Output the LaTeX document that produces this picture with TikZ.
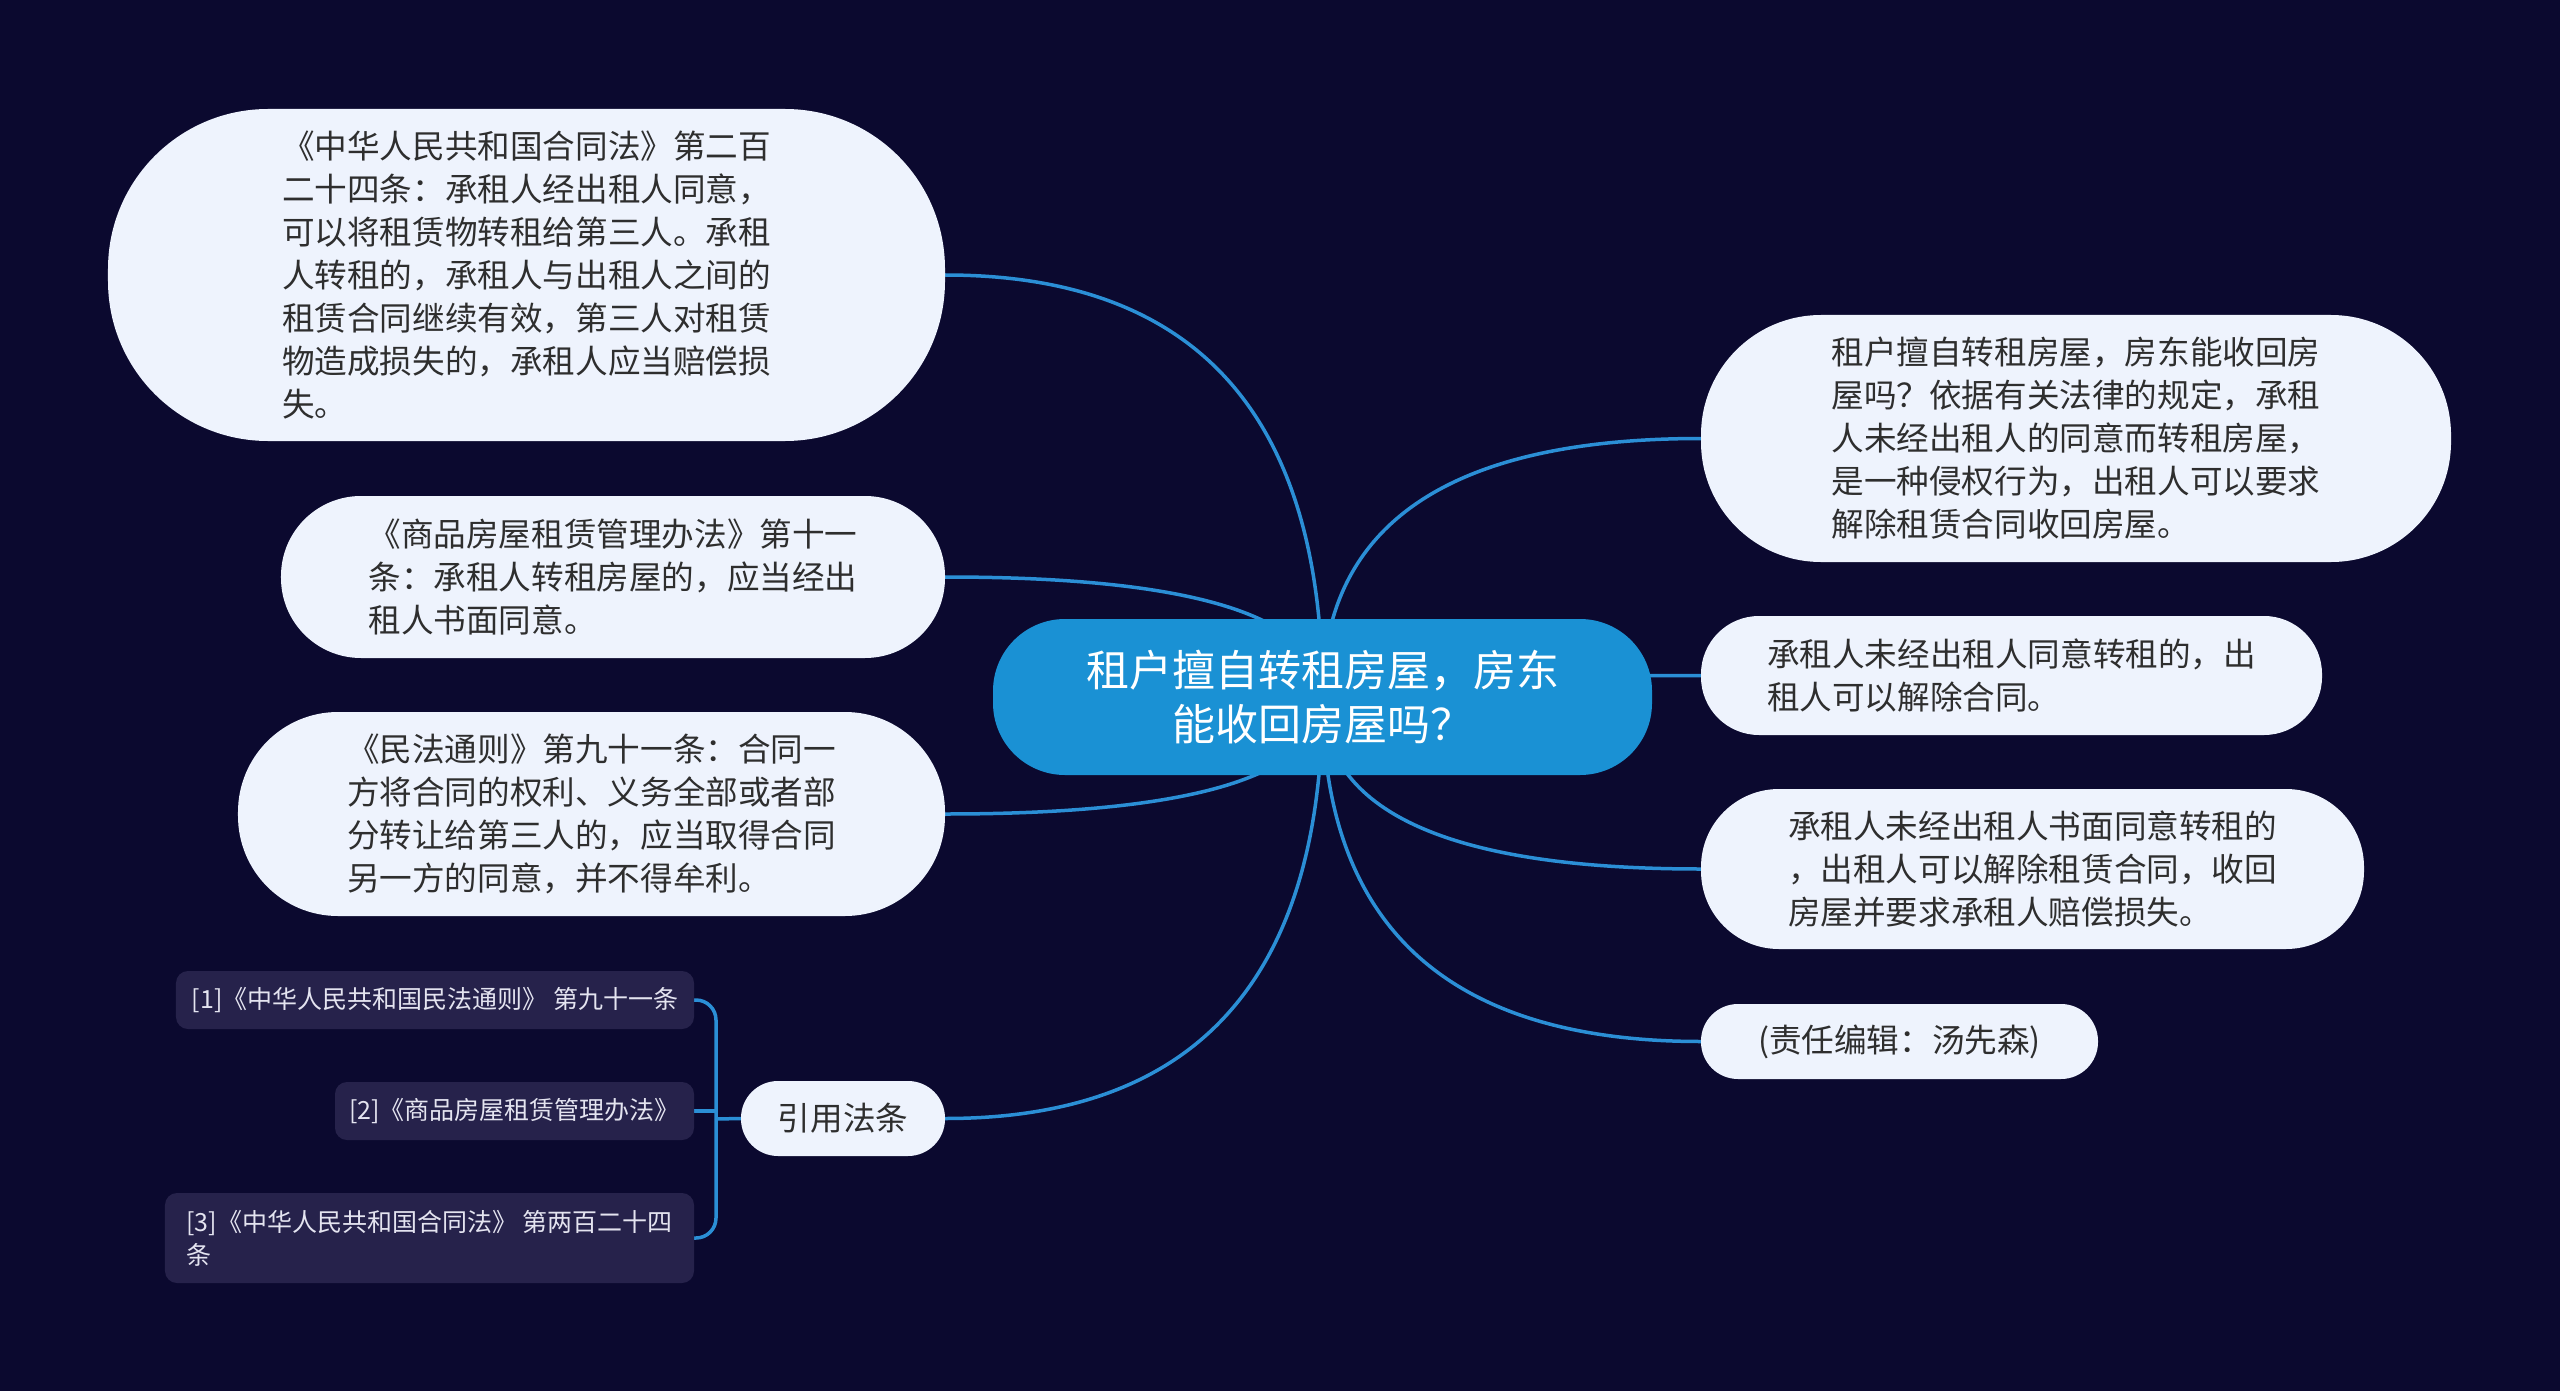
\documentclass[tikz,border=0pt]{standalone}
\usepackage{fontspec}
\newfontfamily\cjk{Noto Sans CJK SC}
\usetikzlibrary{calc}
\definecolor{bg_navy}{HTML}{0B092F}
\definecolor{root_blue}{HTML}{1A91D4}
\definecolor{leaf_fill}{HTML}{EEF3FD}
\definecolor{leaf_text}{HTML}{2E2E2E}
\definecolor{ref_fill}{HTML}{26224B}
\definecolor{ref_text}{HTML}{E4E4F0}
\definecolor{link_blue}{HTML}{2B8FD6}
\pgfdeclarelayer{sfondo}
\pgfdeclarelayer{rami}
\pgfsetlayers{sfondo,rami,main}

\begin{document}
\begin{tikzpicture}[
    x=1bp, y=-1bp,
    font=\cjk,
    tema/.style={fill=root_blue, text=white, align=center, inner sep=0pt,
        minimum width=659bp, minimum height=156bp, rounded corners=72bp,
        font=\cjk\fontsize{43bp}{54bp}\selectfont},
    foglia/.style={fill=leaf_fill, text=leaf_text, align=left, inner sep=0pt,
        font=\cjk\fontsize{32.6bp}{43bp}\selectfont},
    fonte/.style={fill=ref_fill, text=ref_text, align=left, inner sep=0pt,
        rounded corners=12bp, font=\cjk\fontsize{25bp}{33bp}\selectfont},
    ramo/.style={draw=link_blue, line width=3.5bp}
]

% --- Sfondo ---
\begin{pgfonlayer}{sfondo}
    \fill[bg_navy] (0,0) rectangle (2560,1391);
\end{pgfonlayer}

% --- Nodo centrale ---
\node[tema] (root) at (1322.5,697) {租户擅自转租房屋，房东\\能收回房屋吗？};

% --- Lato sinistro ---
\node[foglia, minimum width=837bp, minimum height=332bp, rounded corners=160bp] (hetong) at (526.5,275)
    {《中华人民共和国合同法》第二百\\二十四条：承租人经出租人同意，\\可以将租赁物转租给第三人。承租\\人转租的，承租人与出租人之间的\\租赁合同继续有效，第三人对租赁\\物造成损失的，承租人应当赔偿损\\失。};
\node[foglia, minimum width=664bp, minimum height=162bp, rounded corners=80bp] (banfa) at (613,577)
    {《商品房屋租赁管理办法》第十一\\条：承租人转租房屋的，应当经出\\租人书面同意。};
\node[foglia, minimum width=707bp, minimum height=204bp, rounded corners=100bp] (tongze) at (591.5,814)
    {《民法通则》第九十一条：合同一\\方将合同的权利、义务全部或者部\\分转让给第三人的，应当取得合同\\另一方的同意，并不得牟利。};
\node[foglia, minimum width=204bp, minimum height=75bp, rounded corners=37bp] (yinyong) at (843,1118.5) {引用法条};

% Fonti citate
\node[fonte, minimum width=518bp, minimum height=58bp] (fonte1) at (435,1000)
    {[1]《中华人民共和国民法通则》 第九十一条};
\node[fonte, minimum width=359bp, minimum height=58bp] (fonte2) at (514.5,1111)
    {[2]《商品房屋租赁管理办法》};
\node[fonte, minimum width=529bp, minimum height=90bp] (fonte3) at (429.5,1238)
    {[3]《中华人民共和国合同法》 第两百二十四\\条};

% --- Lato destro ---
\node[foglia, minimum width=750bp, minimum height=247bp, rounded corners=120bp] (risposta) at (2076,438.5)
    {租户擅自转租房屋，房东能收回房\\屋吗？依据有关法律的规定，承租\\人未经出租人的同意而转租房屋，\\是一种侵权行为，出租人可以要求\\解除租赁合同收回房屋。};
\node[foglia, minimum width=621bp, minimum height=119bp, rounded corners=58bp] (jiechu) at (2011.5,675.5)
    {承租人未经出租人同意转租的，出\\租人可以解除合同。};
\node[foglia, minimum width=663bp, minimum height=160bp, rounded corners=78bp] (peichang) at (2032.5,869)
    {承租人未经出租人书面同意转租的\\，出租人可以解除租赁合同，收回\\房屋并要求承租人赔偿损失。};
\node[foglia, minimum width=397bp, minimum height=75bp, rounded corners=37bp] (bianji) at (1899.5,1041.5)
    {(责任编辑：汤先森)};

% --- Rami (curve quadratiche dal centro) ---
\def\collega#1{%
    \coordinate (ctl) at (root.center |- #1);
    \draw[ramo] (root.center) .. controls ($(root.center)!0.667!(ctl)$) and ($(#1)!0.667!(ctl)$) .. (#1);
}
\begin{pgfonlayer}{rami}
    \collega{hetong.east}
    \collega{banfa.east}
    \collega{tongze.east}
    \collega{yinyong.east}
    \collega{risposta.west}
    \collega{jiechu.west}
    \collega{peichang.west}
    \collega{bianji.west}

    % Parentesi delle fonti
    \coordinate (snodo) at (716,1119);
    \draw[ramo] (yinyong.west) -- (snodo);
    \draw[ramo, rounded corners=20bp] (fonte1.east) -| (snodo);
    \draw[ramo, rounded corners=20bp] (fonte3.east) -| (snodo);
    \draw[ramo] (fonte2.east) -- (fonte2.east -| snodo);
\end{pgfonlayer}

\end{tikzpicture}
\end{document}
